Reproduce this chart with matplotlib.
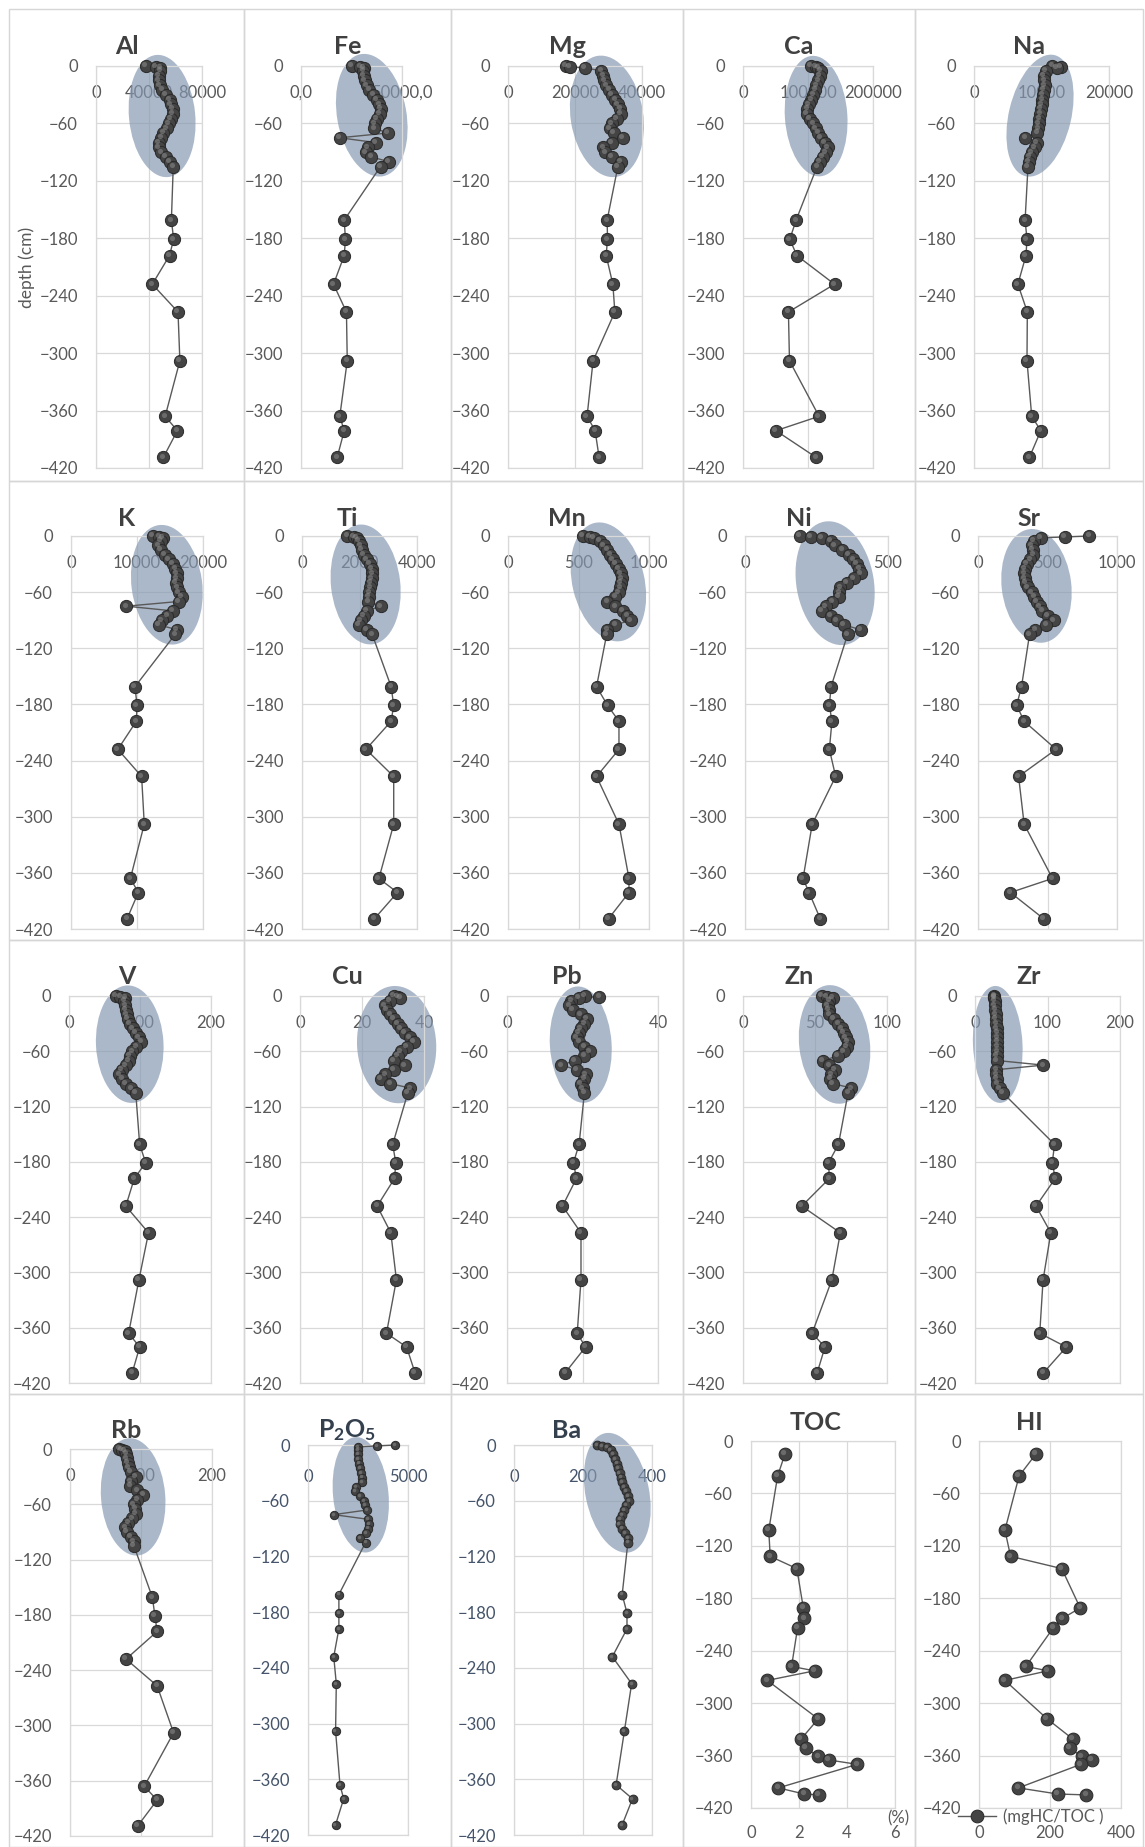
"""
Depth profiles of major/trace elements, TOC and HI for one sediment core.
20 small panels, laid out like the original Excel sheet (4 rows x 5 cols).
"""
import matplotlib
matplotlib.use("Agg")
import matplotlib.pyplot as plt  # noqa: E402
import numpy as np  # noqa: E402
from matplotlib.patches import Ellipse, Rectangle  # noqa: E402
from matplotlib.transforms import IdentityTransform, offset_copy  # noqa: E402

plt.rcParams["font.family"] = ["Lato", "DejaVu Sans"]
plt.rcParams["mathtext.fontset"] = "custom"
plt.rcParams["mathtext.rm"] = "Lato"
plt.rcParams["mathtext.bf"] = "Lato:bold"

W, H = 1145, 1847

# ----- data ---------------------------------------------------------------
UPPER_DEPTH = [0, -1, -2, -5, -10, -15, -20, -25, -30, -35, -40, -45,
               -50, -55, -60, -65, -70, -75, -80, -85, -90, -95, -100, -105]
LOWER_DEPTH = [-161, -181, -198, -228, -257, -308, -366, -381, -409]
DEPTH = UPPER_DEPTH + LOWER_DEPTH

AL = [37800, 45300, 48600, 48600, 47500, 47200, 48000, 50000, 52800, 55500, 56400, 57800,
      57800, 56400, 55000, 53600, 50800, 49400, 47200, 47200, 49400, 52800, 55500, 58300,
      56900, 58600, 55500, 42500, 61900, 63300, 52200, 61400, 50800]
FE = [25100, 29300, 31100, 30800, 31100, 31700, 32600, 33900, 35700, 37500, 38800, 39400,
      39000, 37500, 36600, 36300, 43000, 19200, 37000, 33000, 32000, 34800, 43600, 39400,
      21400, 22000, 21400, 16100, 22500, 22900, 19200, 21400, 17900]
MG = [17300, 18500, 23000, 27800, 28400, 28800, 29300, 30200, 31000, 32000, 32800, 33500,
      33700, 32500, 31000, 30400, 31500, 34300, 31000, 28400, 29000, 31000, 33700, 32800,
      29600, 29700, 29300, 31300, 31900, 25400, 23600, 26000, 27200]
CA = [104000, 112000, 116000, 120000, 118000, 116000, 113000, 111000, 108000, 105000, 101000, 99000,
      98000, 103000, 108000, 112000, 116000, 120000, 126000, 130000, 127000, 123000, 118000, 114000,
      81700, 72000, 82800, 140800, 69900, 71500, 117000, 50700, 112700]
NA = [11600, 12900, 12300, 10600, 10300, 10400, 10500, 10300, 10200, 10100, 10000, 9900,
      9800, 9700, 9600, 9500, 9400, 7600, 9300, 9000, 8600, 8300, 8100, 8000,
      7570, 7850, 7700, 6500, 7900, 7850, 8550, 9900, 8200]
K = [12400, 13400, 13900, 13600, 13200, 13600, 14200, 14800, 15400, 15800, 16000, 16000,
     15900, 16100, 16300, 16800, 16300, 8400, 15400, 14600, 13800, 13300, 16000, 15800,
     9700, 10000, 9900, 7100, 10700, 11100, 9000, 10200, 8500]
TI = [1580, 1800, 1900, 1980, 2050, 2080, 2150, 2250, 2350, 2420, 2450, 2430,
      2400, 2370, 2340, 2320, 2300, 2740, 2260, 2150, 2050, 1980, 2250, 2440,
      3100, 3190, 3100, 2225, 3190, 3190, 2675, 3320, 2520]
MN = [532, 580, 610, 650, 680, 705, 725, 745, 765, 785, 800, 805,
      800, 795, 785, 760, 705, 760, 815, 845, 872, 760, 705, 700,
      628, 706, 787, 787, 628, 787, 858, 858, 713]
NI = [192, 231, 269, 300, 314, 340, 362, 378, 391, 400, 404, 380,
      355, 333, 330, 327, 305, 282, 269, 300, 321, 345, 404, 359,
      301, 295, 304, 295, 317, 235, 203, 224, 263]
SR = [801, 623, 451, 400, 385, 395, 398, 375, 350, 338, 332, 335,
      345, 360, 385, 405, 424, 445, 464, 500, 544, 491, 411, 371,
      313, 278, 332, 562, 292, 332, 536, 233, 472]
V = [66, 72, 79, 78, 79, 80, 81, 83, 86, 90, 94, 98,
     102, 95, 89, 86, 84, 80, 74, 71, 75, 80, 88, 94,
     99.5, 108, 92, 80, 112, 98.5, 84, 99.5, 89]
CU = [30.3, 31.5, 32.4, 29.0, 27.3, 28.0, 29.1, 30.3, 31.5, 32.6, 33.8, 35.5,
      36.8, 34.5, 32.6, 31.5, 30.3, 33.8, 30.3, 27.5, 26.1, 29.1, 35.6, 34.8,
      29.9, 30.9, 30.5, 24.9, 29.3, 31.1, 27.9, 34.4, 37.1]
PB = [20.6, 24.4, 19.0, 17.0, 16.5, 17.5, 19.5, 21.2, 20.5, 19.6, 19.0, 18.5,
      19.2, 20.5, 22.0, 20.5, 18.0, 14.4, 18.5, 20.8, 20.5, 19.5, 20.1, 20.5,
      19.1, 17.6, 18.4, 14.7, 19.6, 19.6, 18.6, 20.8, 15.4]
ZN = [54.8, 58.0, 62.5, 60.0, 58.7, 59.5, 60.0, 63.0, 66.3, 68.5, 70.2, 71.5,
      72.7, 72.0, 70.2, 66.0, 55.6, 60.0, 63.8, 61.2, 60.5, 62.5, 75.3, 73.0,
      66.3, 59.4, 60.0, 40.8, 67.6, 61.7, 48.0, 56.9, 51.5]
ZR = [26.5, 26.5, 26.5, 27, 27, 28, 28.5, 29, 29.5, 30, 30.5, 31,
      31, 31, 30.5, 30, 30, 94.4, 29.5, 29.5, 30, 31, 34, 38.3,
      109.7, 106.6, 110.7, 84.2, 104.6, 93.9, 89.3, 126, 94.4]
RB = [69.6, 73, 77, 79, 80, 81, 82.5, 86, 92.8, 86, 85, 95,
      103, 95, 90, 92, 93, 88, 82, 78, 80, 86, 90, 90,
      116, 119.6, 122.7, 78.9, 122.7, 145.9, 104.6, 122.7, 95.4]
P2O5 = [4357, 3438, 2518, 2480, 2500, 2520, 2550, 2600, 2650, 2700, 2720, 2400,
        2335, 2600, 2780, 2850, 2950, 1287, 3000, 3070, 3000, 2880, 2620, 2880,
        1544, 1544, 1544, 1287, 1415, 1379, 1599, 1783, 1379]
BA = [242, 256, 269, 280, 288, 293, 298, 302, 306, 310, 314, 320,
      326, 330, 333, 326, 318, 313, 307, 306, 312, 322, 330, 330,
      313.6, 327.5, 327.5, 285, 341, 320, 296, 343.5, 313.6]

TOC_DEPTH = [-14.5, -40, -102, -132, -146, -191, -203, -214, -258, -263,
             -274, -318, -341, -351.5, -361, -365, -370, -397, -404, -405]
TOC = [1.42, 1.11, 0.74, 0.80, 1.91, 2.18, 2.22, 1.94, 1.69, 2.65,
       0.68, 2.80, 2.09, 2.28, 2.80, 3.23, 4.43, 1.14, 2.22, 2.83]
HI = [161, 113, 73, 89, 233, 285, 235, 209, 132, 194,
      73, 192, 264, 256, 289, 318, 287, 111, 222, 302]

Y_TICKS = [0, -60, -120, -180, -240, -300, -360, -420]

# ----- layout (pixels of the 1145x1847 sheet) -----------------------------
COL_EDGES = [9, 244, 451, 683, 915, 1143]
ROW_EDGES = [9, 481, 940, 1394, 1847]

GREY_TXT = "#595959"
TITLE_C = "#404040"
SLATE = "#44546A"
SLATE_DARK = "#35404F"
GRID_C = "#d9d9d9"

PANELS = [
    # row 1
    dict(title="Al", vals=AL, row=0, col=0, box=(96, 202, 66, 468), xmax=80000,
         xticks=[0, 40000, 80000]),
    dict(title="Fe", vals=FE, row=0, col=1, box=(301, 402, 66, 468), xmax=50000,
         xticks=[0, 50000], xlabels=["0,0", "50000,0"], skip=[17]),
    dict(title="Mg", vals=MG, row=0, col=2, box=(508, 642, 66, 468), xmax=40000,
         xticks=[0, 20000, 40000], skip=[0, 1]),
    dict(title="Ca", vals=CA, row=0, col=3, box=(743, 873, 66, 468), xmax=200000,
         xticks=[0, 100000, 200000]),
    dict(title="Na", vals=NA, row=0, col=4, box=(974, 1109, 66, 468), xmax=20000,
         xticks=[0, 10000, 20000]),
    # row 2
    dict(title="K", vals=K, row=1, col=0, box=(71, 203, 536, 929), xmax=20000,
         xticks=[0, 10000, 20000], skip=[17]),
    dict(title="Ti", vals=TI, row=1, col=1, box=(302, 417, 536, 929), xmax=4000,
         xticks=[0, 2000, 4000]),
    dict(title="Mn", vals=MN, row=1, col=2, box=(508, 649, 536, 929), xmax=1000,
         xticks=[0, 500, 1000]),
    dict(title="Ni", vals=NI, row=1, col=3, box=(745, 888, 536, 929), xmax=500,
         xticks=[0, 500], bpad=12),
    dict(title="Sr", vals=SR, row=1, col=4, box=(978, 1117, 536, 929), xmax=1000,
         xticks=[0, 500, 1000], skip=[0, 1]),
    # row 3
    dict(title="V", vals=V, row=2, col=0, box=(69, 211, 996, 1383), xmax=200,
         xticks=[0, 100, 200]),
    dict(title="Cu", vals=CU, row=2, col=1, box=(300, 424, 996, 1383), xmax=40,
         xticks=[0, 20, 40]),
    dict(title="Pb", vals=PB, row=2, col=2, box=(507, 658, 996, 1383), xmax=40,
         xticks=[0, 20, 40], skip=[1, 17]),
    dict(title="Zn", vals=ZN, row=2, col=3, box=(743, 887, 996, 1383), xmax=100,
         xticks=[0, 50, 100]),
    dict(title="Zr", vals=ZR, row=2, col=4, box=(975, 1120, 996, 1383), xmax=200,
         xticks=[0, 100, 200], skip=[17]),
    # row 4
    dict(title="Rb", vals=RB, row=3, col=0, box=(70, 212, 1449, 1836), xmax=200,
         xticks=[0, 100, 200], ty=1431),
    dict(title=r"$\mathbf{P_2O_5}$", vals=P2O5, row=3, col=1, box=(308, 408, 1445, 1835),
         xmax=5000, xticks=[0, 5000], skip=[0, 1, 17], ms=6.0, color=SLATE,
         tcolor=SLATE_DARK, ty=1430, xpad=-29),
    dict(title="Ba", vals=BA, row=3, col=2, box=(514, 652, 1445, 1835), xmax=400,
         xticks=[0, 200, 400], ms=6.3, color=SLATE, tcolor=SLATE_DARK, ty=1430, xpad=-29),
    dict(title="TOC", vals=TOC, depth=TOC_DEPTH, row=3, col=3, box=(751, 895, 1441, 1808),
         xmax=6, xticks=[0, 2, 4, 6], bottom=True, shade=False, ms=9.2, ty=1423, tx=816),
    dict(title="HI", vals=HI, depth=TOC_DEPTH, row=3, col=4, box=(979, 1121, 1441, 1808),
         xmax=400, xticks=[0, 200, 400], bottom=True, shade=False, ms=9.2, ty=1423),
]

fig = plt.figure(figsize=(W / 100, H / 100), dpi=100)
fig.patch.set_facecolor("white")


def fx(px):
    return px / W


def fy(py):
    return 1 - py / H


def shade_cluster(ax, vals, depth, skip, bpad):
    """Blue-grey ellipse around the upper (0-105 cm) group, sized in pixels."""
    n = len(UPPER_DEPTH)
    keep = [i for i in range(n) if i not in skip]
    pts = np.column_stack([np.asarray(vals[:n], float), np.asarray(depth[:n], float)])[keep]
    disp = ax.transData.transform(pts)
    c = disp.mean(axis=0)
    w, vec = np.linalg.eigh(np.cov((disp - c).T))
    u, v = vec[:, 1], vec[:, 0]
    pu, pv = (disp - c) @ u, (disp - c) @ v
    a = (pu.max() - pu.min()) / 2 + 10
    b = (pv.max() - pv.min()) / 2 + bpad
    centre = c + u * (pu.max() + pu.min()) / 2 + v * (pv.max() + pv.min()) / 2
    ang = np.degrees(np.arctan2(u[1], u[0]))
    ax.add_patch(Ellipse(centre, 2 * a, 2 * b, angle=ang, transform=IdentityTransform(),
                         facecolor="#8497B0", alpha=0.68, edgecolor="none",
                         zorder=1, clip_on=False))


def draw_panel(p):
    l, r, t, b = p["box"]
    ax = fig.add_axes([fx(l), fy(b), fx(r - l), (b - t) / H])
    ax.set_axisbelow(True)
    txt_c = p.get("color", GREY_TXT)
    depth = p.get("depth", DEPTH)
    vals = p["vals"]
    ms = p.get("ms", 8.8)

    ax.set_xlim(0, p["xmax"])
    ax.set_ylim(-420, 0)
    ax.set_yticks(Y_TICKS)
    ax.set_xticks(p["xticks"])
    ax.set_xticklabels(p.get("xlabels", [str(x) for x in p["xticks"]]))
    ax.grid(True, color=GRID_C, lw=0.9)
    for s in ax.spines.values():
        s.set_color(GRID_C)
        s.set_linewidth(0.9)

    ax.tick_params(axis="y", length=0, pad=13, labelsize=12, labelcolor=txt_c)
    if p.get("bottom"):
        ax.tick_params(axis="x", length=0, pad=12, labelsize=12, labelcolor=txt_c)
    else:
        ax.xaxis.set_ticks_position("top")
        ax.tick_params(axis="x", length=0, pad=p.get("xpad", -25), labelsize=12,
                       labelcolor=txt_c)

    line, = ax.plot(vals, depth, color="#595959", lw=1.0, zorder=3, clip_on=False,
                    marker="o", ms=ms, mfc="#444444", mec="#2a2a2a", mew=0.7)
    hl = offset_copy(ax.transData, fig=fig, x=-0.13 * ms, y=0.13 * ms, units="points")
    ax.plot(vals, depth, ls="none", marker="o", ms=ms * 0.42, mfc="#8c8c8c", mec="none",
            alpha=0.55, zorder=4, clip_on=False, transform=hl)

    if p.get("shade", True):
        shade_cluster(ax, vals, depth, p.get("skip", []), p.get("bpad", 22))

    cx = p.get("tx", (COL_EDGES[p["col"]] + COL_EDGES[p["col"] + 1]) / 2)
    ty = p.get("ty", ROW_EDGES[p["row"]] + 37)
    fig.text(fx(cx), fy(ty), p["title"], ha="center", va="center", fontsize=18,
             fontweight="bold", color=p.get("tcolor", TITLE_C))
    return ax, line


# cell frames
for ri in range(4):
    for ci in range(5):
        x0, x1 = COL_EDGES[ci], COL_EDGES[ci + 1]
        y0, y1 = ROW_EDGES[ri], ROW_EDGES[ri + 1]
        fig.add_artist(Rectangle((fx(x0), fy(y1)), fx(x1 - x0), (y1 - y0) / H,
                                 transform=fig.transFigure, fill=False,
                                 edgecolor="#d6d6d6", lw=1.0))

axes = {}
for p in PANELS:
    axes[p["title"]] = draw_panel(p)

fig.text(fx(27), fy(267), "depth (cm)", rotation=90, ha="center", va="center",
         fontsize=12.5, color=GREY_TXT)
fig.text(fx(898), fy(1818), "(%)", ha="center", va="center", fontsize=12, color=GREY_TXT)

hi_ax, hi_line = axes["HI"]
hi_ax.legend([hi_line], ["(mgHC/TOC )"], loc="center left",
             bbox_to_anchor=(fx(958), fy(1817)), bbox_transform=fig.transFigure,
             frameon=False, fontsize=12, labelcolor=GREY_TXT, handlelength=2.3,
             handletextpad=0.4, borderpad=0, borderaxespad=0)

fig.savefig("out.png", dpi=100, facecolor="white")
